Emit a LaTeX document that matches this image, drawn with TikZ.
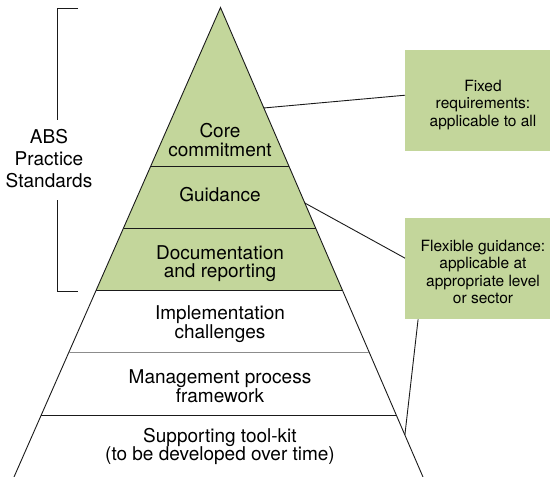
\documentclass[tikz,border=0pt]{standalone}
\usepackage{fontspec}
\setmainfont{TeX Gyre Heros}
\usetikzlibrary{calc}
\definecolor{pgreen}{HTML}{C3D69B}
\definecolor{lnc}{HTML}{1A1A1A}
\definecolor{graylayer}{HTML}{8C8C8C}
\begin{document}
\begin{tikzpicture}[x=1pt,y=-1pt,
  edge/.style={draw=lnc, line width=0.9pt},
  layertext/.style={font=\fontsize{19}{18.5}\selectfont, align=center, inner sep=0pt, text=black},
  sidetext/.style={font=\fontsize{19}{22.2}\selectfont, align=center, inner sep=0pt, text=black},
  calloutbox/.style={fill=pgreen, minimum width=145pt, minimum height=101pt, inner sep=0pt, anchor=north west},
  callouttext/.style={font=\fontsize{15.5}{17.3}\selectfont, align=center, inner sep=0pt, text=black}
]
\useasboundingbox (0,0) rectangle (550,477);

% pyramid corners
\coordinate (A) at (220.5,7.5);
\coordinate (BL) at (14,477);
\coordinate (BR) at (423,477);
% layer boundaries
\coordinate (L1) at ($(A)!0.3376!(BL)$);
\coordinate (R1) at ($(A)!0.3376!(BR)$);
\coordinate (L2) at ($(A)!0.4696!(BL)$);
\coordinate (R2) at ($(A)!0.4696!(BR)$);
\coordinate (L3) at ($(A)!0.6017!(BL)$);
\coordinate (R3) at ($(A)!0.6017!(BR)$);
\coordinate (L4) at ($(A)!0.7338!(BL)$);
\coordinate (R4) at ($(A)!0.7338!(BR)$);
\coordinate (L5) at ($(A)!0.8679!(BL)$);
\coordinate (R5) at ($(A)!0.8679!(BR)$);

\fill[pgreen] (A) -- (L3) -- (R3) -- cycle;
\draw[edge] (BL) -- (A) -- (BR);
\draw[edge] (L1) -- (R1);
\draw[edge] (L2) -- (R2);
\draw[edge] (L3) -- (R3);
\draw[draw=graylayer, line width=0.9pt] (L4) -- (R4);
\draw[edge] (L5) -- (R5);

% layer texts
\node[layertext] (core) at (220,140) {Core\\commitment};
\node[layertext, anchor=base] (guid) at (220,201.7) {Guidance};
\node[layertext] (doc) at (220,263.5) {Documentation\\and reporting};
\node[layertext] (impl) at (220,324) {Implementation\\challenges};
\node[layertext] (mgmt) at (220,386) {Management process\\framework};
\node[layertext] (tool) at (220,446.4) {Supporting tool-kit\\(to be developed over time)};

% side bracket and label
\node[sidetext] (abs) at (49,158.7) {ABS\\Practice\\Standards};
\draw[edge] (78,8) -- (57,8) -- (57,120);
\draw[edge] (57,200) -- (57,291) -- (78,291);

% callout boxes
\node[calloutbox] (fixed) at (405,50) {};
\node[callouttext] (fixedtxt) at (483,105) {Fixed\\requirements:\\applicable to all};
\node[calloutbox] (flex) at (405,218) {};
\node[callouttext] (flextxt) at (483,272) {Flexible guidance:\\applicable at\\appropriate level\\or sector};

% connectors
\coordinate (c1s) at ($(A)!0.214!(BR)$);
\coordinate (c1e) at ($(fixed.north west)!0.446!(fixed.south west)$);
\draw[edge] (c1s) -- (c1e);
\coordinate (c2s) at ($(A)!0.4164!(BR)$);
\coordinate (c2e) at ($(flex.north west)!0.396!(flex.south west)$);
\draw[edge] (c2s) -- (c2e);
\coordinate (c3s) at ($(flex.south west)!0.09!(flex.south east)$);
\coordinate (c3e) at ($(A)!0.9105!(BR)$);
\draw[edge] (c3s) -- (c3e);
\end{tikzpicture}
\end{document}
